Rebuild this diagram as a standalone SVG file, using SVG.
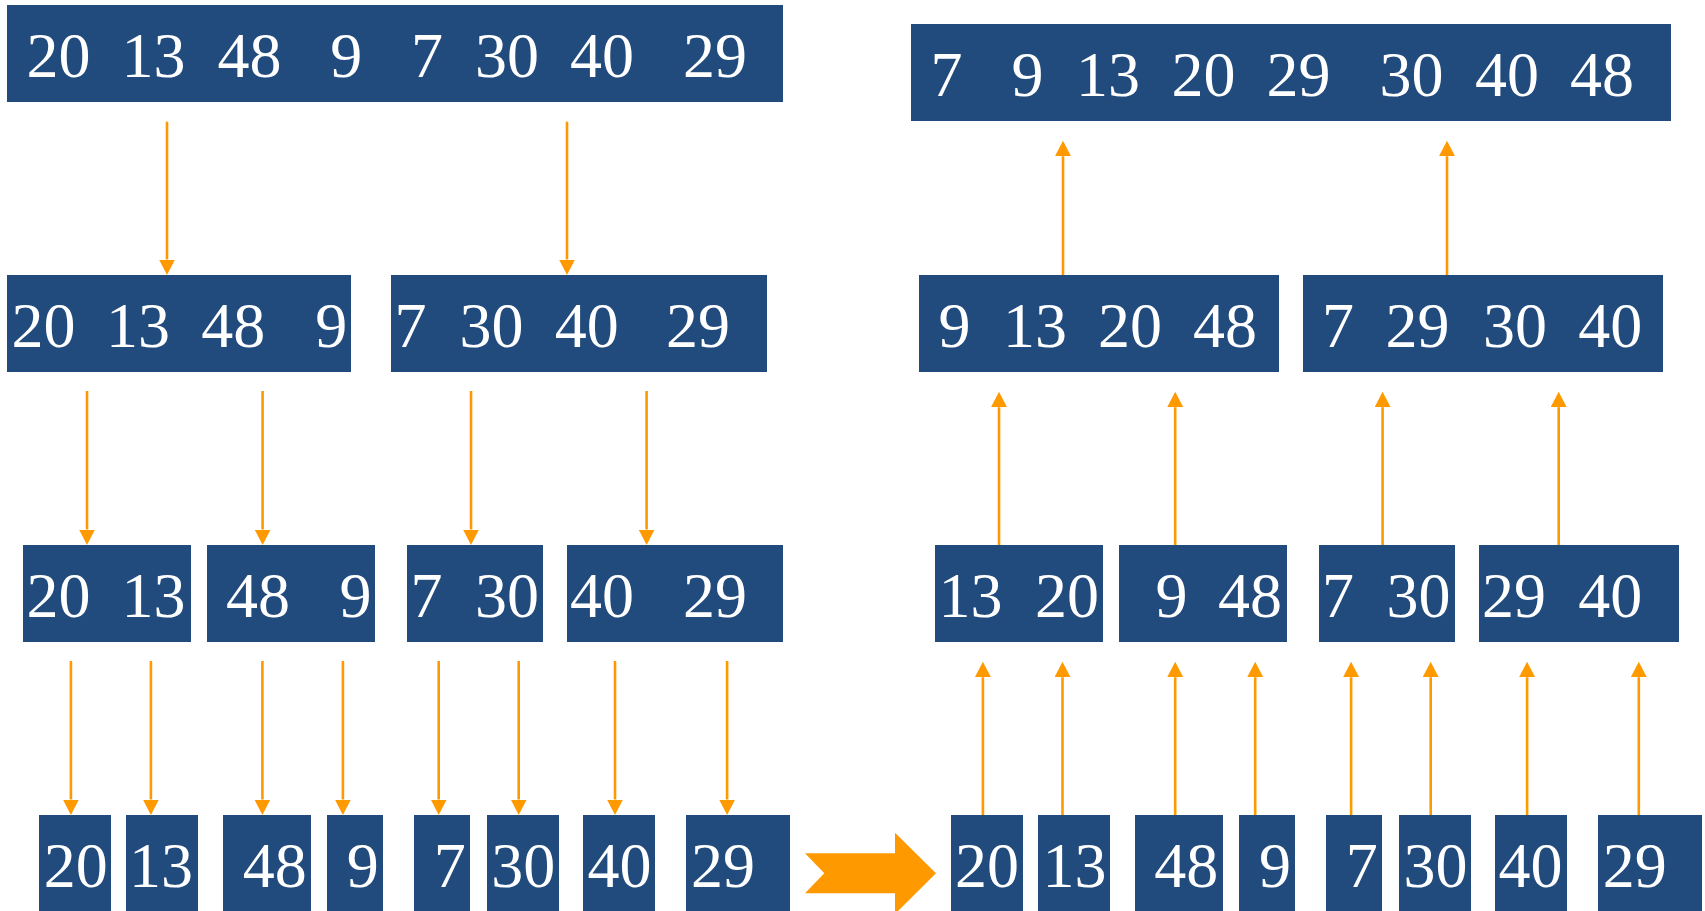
<svg xmlns="http://www.w3.org/2000/svg" width="1705" height="911" viewBox="0 0 1705 911">
  <defs>
    <style>
      .box { fill: #214A7D; }
      .num { font-family: "Liberation Serif", "Times New Roman", serif; font-size: 64px; fill: #FFFFFF; text-anchor: middle; }
      .link { stroke: #FF9900; stroke-width: 2.6; fill: none; marker-end: url(#head); }
      .big { fill: #FF9900; }
    </style>
    <marker id="head" markerUnits="userSpaceOnUse" markerWidth="16" markerHeight="16" refX="0" refY="8" orient="auto">
      <path d="M0,0 L15.5,8 L0,16 Z" fill="#FF9900"/>
    </marker>
  </defs>
  <rect width="1705" height="911" fill="#FFFFFF"/>

  <!-- split side: full array -->
  <g id="split-0">
    <rect class="box" x="7" y="5" width="776" height="97"/>
    <text class="num" y="76.5"><tspan x="58.4">20</tspan><tspan x="153.6">13</tspan><tspan x="249.5">48</tspan><tspan x="346.3">9</tspan><tspan x="427">7</tspan><tspan x="506.9">30</tspan><tspan x="601.9">40</tspan><tspan x="715">29</tspan></text>
  </g>

  <!-- split side: halves -->
  <g id="split-1a">
    <rect class="box" x="7" y="275" width="344" height="97"/>
    <text class="num" y="346.5"><tspan x="43.5">20</tspan><tspan x="138">13</tspan><tspan x="233.3">48</tspan><tspan x="331.3">9</tspan></text>
  </g>
  <g id="split-1b">
    <rect class="box" x="391" y="275" width="376" height="97"/>
    <text class="num" y="346.5"><tspan x="410.5">7</tspan><tspan x="491.4">30</tspan><tspan x="586.7">40</tspan><tspan x="698">29</tspan></text>
  </g>

  <!-- split side: pairs -->
  <g id="split-2a">
    <rect class="box" x="23" y="545" width="168" height="97"/>
    <text class="num" y="616.5"><tspan x="58.4">20</tspan><tspan x="153.6">13</tspan></text>
  </g>
  <g id="split-2b">
    <rect class="box" x="207" y="545" width="168" height="97"/>
    <text class="num" y="616.5"><tspan x="258.1">48</tspan><tspan x="355.5">9</tspan></text>
  </g>
  <g id="split-2c">
    <rect class="box" x="407" y="545" width="136" height="97"/>
    <text class="num" y="616.5"><tspan x="426.5">7</tspan><tspan x="506.9">30</tspan></text>
  </g>
  <g id="split-2d">
    <rect class="box" x="567" y="545" width="216" height="97"/>
    <text class="num" y="616.5"><tspan x="601.9">40</tspan><tspan x="715">29</tspan></text>
  </g>

  <!-- split side: single elements -->
  <g id="split-3a"><rect class="box" x="39" y="815" width="72" height="96"/><text class="num" x="75.7" y="886.5">20</text></g>
  <g id="split-3b"><rect class="box" x="126" y="815" width="72" height="96"/><text class="num" x="161" y="886.5">13</text></g>
  <g id="split-3c"><rect class="box" x="223" y="815" width="88" height="96"/><text class="num" x="274.8" y="886.5">48</text></g>
  <g id="split-3d"><rect class="box" x="327" y="815" width="56" height="96"/><text class="num" x="362.8" y="886.5">9</text></g>
  <g id="split-3e"><rect class="box" x="414" y="815" width="56" height="96"/><text class="num" x="449.7" y="886.5">7</text></g>
  <g id="split-3f"><rect class="box" x="487" y="815" width="72" height="96"/><text class="num" x="523.2" y="886.5">30</text></g>
  <g id="split-3g"><rect class="box" x="583" y="815" width="72" height="96"/><text class="num" x="619.5" y="886.5">40</text></g>
  <g id="split-3h"><rect class="box" x="686" y="815" width="104" height="96"/><text class="num" x="723" y="886.5">29</text></g>

  <!-- transition arrow -->
  <g id="transition">
    <polygon class="big" points="805,853.3 895,853.3 895,832.7 936,873.3 895,914 895,893.3 805,893.3 824.3,873.3"/>
  </g>

  <!-- merge side: single elements -->
  <g id="merge-3a"><rect class="box" x="951" y="815" width="72" height="96"/><text class="num" x="986.9" y="886.5">20</text></g>
  <g id="merge-3b"><rect class="box" x="1038" y="815" width="72" height="96"/><text class="num" x="1074.4" y="886.5">13</text></g>
  <g id="merge-3c"><rect class="box" x="1135" y="815" width="88" height="96"/><text class="num" x="1186.3" y="886.5">48</text></g>
  <g id="merge-3d"><rect class="box" x="1239" y="815" width="56" height="96"/><text class="num" x="1275" y="886.5">9</text></g>
  <g id="merge-3e"><rect class="box" x="1326" y="815" width="56" height="96"/><text class="num" x="1361.8" y="886.5">7</text></g>
  <g id="merge-3f"><rect class="box" x="1399" y="815" width="72" height="96"/><text class="num" x="1435.4" y="886.5">30</text></g>
  <g id="merge-3g"><rect class="box" x="1495" y="815" width="72" height="96"/><text class="num" x="1530.5" y="886.5">40</text></g>
  <g id="merge-3h"><rect class="box" x="1598" y="815" width="104" height="96"/><text class="num" x="1634.8" y="886.5">29</text></g>

  <!-- merge side: sorted pairs -->
  <g id="merge-2a">
    <rect class="box" x="935" y="545" width="168" height="97"/>
    <text class="num" y="616.5"><tspan x="970.5">13</tspan><tspan x="1067">20</tspan></text>
  </g>
  <g id="merge-2b">
    <rect class="box" x="1119" y="545" width="168" height="97"/>
    <text class="num" y="616.5"><tspan x="1171.5">9</tspan><tspan x="1250">48</tspan></text>
  </g>
  <g id="merge-2c">
    <rect class="box" x="1319" y="545" width="136" height="97"/>
    <text class="num" y="616.5"><tspan x="1338">7</tspan><tspan x="1418.5">30</tspan></text>
  </g>
  <g id="merge-2d">
    <rect class="box" x="1479" y="545" width="200" height="97"/>
    <text class="num" y="616.5"><tspan x="1514">29</tspan><tspan x="1610.3">40</tspan></text>
  </g>

  <!-- merge side: sorted halves -->
  <g id="merge-1a">
    <rect class="box" x="919" y="275" width="360" height="97"/>
    <text class="num" y="346.5"><tspan x="954.5">9</tspan><tspan x="1035">13</tspan><tspan x="1130">20</tspan><tspan x="1225">48</tspan></text>
  </g>
  <g id="merge-1b">
    <rect class="box" x="1303" y="275" width="360" height="97"/>
    <text class="num" y="346.5"><tspan x="1338">7</tspan><tspan x="1417.5">29</tspan><tspan x="1515">30</tspan><tspan x="1610.3">40</tspan></text>
  </g>

  <!-- merge side: sorted result -->
  <g id="merge-0">
    <rect class="box" x="911" y="24" width="760" height="97"/>
    <text class="num" y="96"><tspan x="946.5">7</tspan><tspan x="1027.5">9</tspan><tspan x="1108">13</tspan><tspan x="1203.6">20</tspan><tspan x="1298.6">29</tspan><tspan x="1411.6">30</tspan><tspan x="1507">40</tspan><tspan x="1602">48</tspan></text>
  </g>

  <!-- connectors -->
  <g id="connectors">
    <!-- split: level 0 to 1 -->
    <line class="link" x1="167" y1="121.7" x2="167" y2="259.5"/>
    <line class="link" x1="567" y1="121.7" x2="567" y2="259.5"/>
    <!-- split: level 1 to 2 -->
    <line class="link" x1="87" y1="391" x2="87" y2="529.5"/>
    <line class="link" x1="262.6" y1="391" x2="262.6" y2="529.5"/>
    <line class="link" x1="471" y1="391" x2="471" y2="529.5"/>
    <line class="link" x1="646.6" y1="391" x2="646.6" y2="529.5"/>
    <!-- split: level 2 to 3 -->
    <line class="link" x1="70.9" y1="661" x2="70.9" y2="799.5"/>
    <line class="link" x1="150.9" y1="661" x2="150.9" y2="799.5"/>
    <line class="link" x1="262.4" y1="661" x2="262.4" y2="799.5"/>
    <line class="link" x1="342.9" y1="661" x2="342.9" y2="799.5"/>
    <line class="link" x1="438.7" y1="661" x2="438.7" y2="799.5"/>
    <line class="link" x1="518.7" y1="661" x2="518.7" y2="799.5"/>
    <line class="link" x1="615" y1="661" x2="615" y2="799.5"/>
    <line class="link" x1="727.1" y1="661" x2="727.1" y2="799.5"/>
    <!-- merge: level 3 to 2 -->
    <line class="link" x1="982.9" y1="815" x2="982.9" y2="677.2"/>
    <line class="link" x1="1062.5" y1="815" x2="1062.5" y2="677.2"/>
    <line class="link" x1="1175.2" y1="815" x2="1175.2" y2="677.2"/>
    <line class="link" x1="1255.2" y1="815" x2="1255.2" y2="677.2"/>
    <line class="link" x1="1351.1" y1="815" x2="1351.1" y2="677.2"/>
    <line class="link" x1="1430.7" y1="815" x2="1430.7" y2="677.2"/>
    <line class="link" x1="1527.1" y1="815" x2="1527.1" y2="677.2"/>
    <line class="link" x1="1638.8" y1="815" x2="1638.8" y2="677.2"/>
    <!-- merge: level 2 to 1 -->
    <line class="link" x1="999" y1="545" x2="999" y2="407.2"/>
    <line class="link" x1="1175.2" y1="545" x2="1175.2" y2="407.2"/>
    <line class="link" x1="1382.6" y1="545" x2="1382.6" y2="407.2"/>
    <line class="link" x1="1558.7" y1="545" x2="1558.7" y2="407.2"/>
    <!-- merge: level 1 to 0 -->
    <line class="link" x1="1063" y1="275" x2="1063" y2="156.2"/>
    <line class="link" x1="1447" y1="275" x2="1447" y2="156.2"/>
  </g>
</svg>
